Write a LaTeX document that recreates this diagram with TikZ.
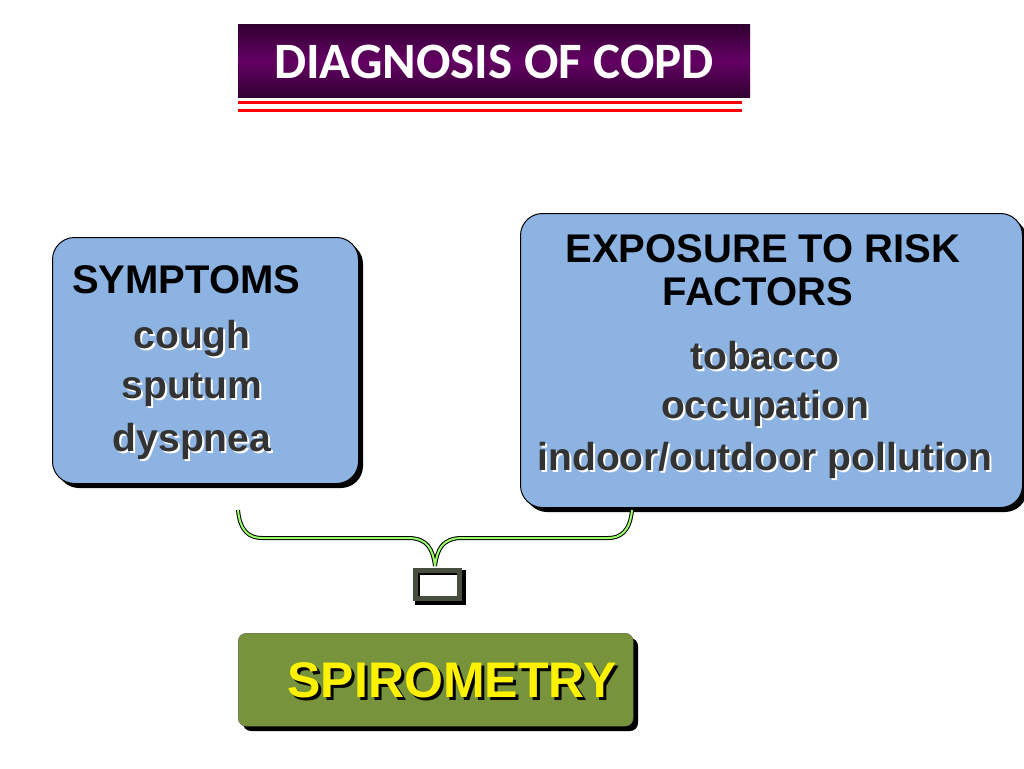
\documentclass[tikz,border=0pt]{standalone}
\usepackage{fontspec}
\setmainfont{Liberation Sans}
\newfontfamily\titlefont{Carlito}
\begin{document}
\begin{tikzpicture}[x=1pt,y=-1pt,
  box/.style={draw=black,line width=1pt,rounded corners=22pt,fill=blueb},
  shad/.style={fill=black,rounded corners=22pt},
  hd/.style={font=\bfseries\fontsize{40}{42}\selectfont,text=black},
  it/.style={font=\bfseries\fontsize{39}{41}\selectfont,text=black!80}]
\definecolor{blueb}{HTML}{8DB3E2}
\definecolor{olive}{HTML}{77933C}
\definecolor{brace}{HTML}{99FF66}
\useasboundingbox (0,0) rectangle (1024,768);
% title
\shade[top color={rgb,255:red,50;green,0;blue,50},bottom color={rgb,255:red,50;green,0;blue,50},middle color={rgb,255:red,100;green,0;blue,100}] (238,25) rectangle (750,97);
\node (title) at (494,62) {\titlefont\bfseries\fontsize{51}{54}\selectfont\color{white}DIAGNOSIS OF COPD};
\fill[red] (238,101) rectangle (742,104);
\fill[red] (238,109) rectangle (742,112);
% boxes
\fill[shad] (57,242) rectangle (363,488);
\node[box,minimum width=306pt,minimum height=246pt,anchor=north west] (sym) at (52,237) {};
\fill[shad] (525,218) rectangle (1027,512);
\node[box,minimum width=502pt,minimum height=294pt,anchor=north west] (exp) at (520,213) {};
\fill[black,rounded corners=8pt] (243,638) rectangle (638,731);
\node[draw=black!60,fill=olive,rounded corners=8pt,minimum width=395pt,minimum height=93pt,anchor=north west] (spi) at (238,633) {};
% texts
\node[hd,anchor=west,inner sep=0pt] (t1) at (72,280) {SYMPTOMS};
\foreach \t/\y in {cough/338,sputum/390,dyspnea/441}{
  \node[it,text=white] at (194,\y+2) {\t};
  \node[it] at (192,\y) {\t};}
\node[hd] (t2) at (763,249) {EXPOSURE TO RISK};
\node[hd] (t3) at (758,292) {FACTORS};
\foreach \t/\y in {tobacco/356,occupation/408,{indoor/outdoor pollution}/460}{
  \node[it,text=white] at (767,\y+2) {\t};
  \node[it] at (765,\y) {\t};}
\node[font=\bfseries\fontsize{50}{52}\selectfont,text=black] at (455,683) {SPIROMETRY};
\node[font=\bfseries\fontsize{50}{52}\selectfont,text=yellow] (st) at (452,680) {SPIROMETRY};
% brace
\coordinate (bl) at (238,510); \coordinate (br) at (632,510); \coordinate (bt) at (435,566);
\foreach \c/\w in {black/4pt,brace/2pt}{
\draw[\c,line width=\w] (bl) .. controls (240,532) and (250,538) .. (262,538) -- (408,538) .. controls (428,538) and (433,550) .. (bt);
\draw[\c,line width=\w] (br) .. controls (630,532) and (620,538) .. (608,538) -- (462,538) .. controls (442,538) and (437,550) .. (bt);}
% small box
\draw[black,line width=5pt] (417,572) rectangle (463,602);
\draw[black!70!olive!60!gray,line width=5pt] (415,570) rectangle (459,598);
\node (sq) at (437,584) {};
\end{tikzpicture}
\end{document}
